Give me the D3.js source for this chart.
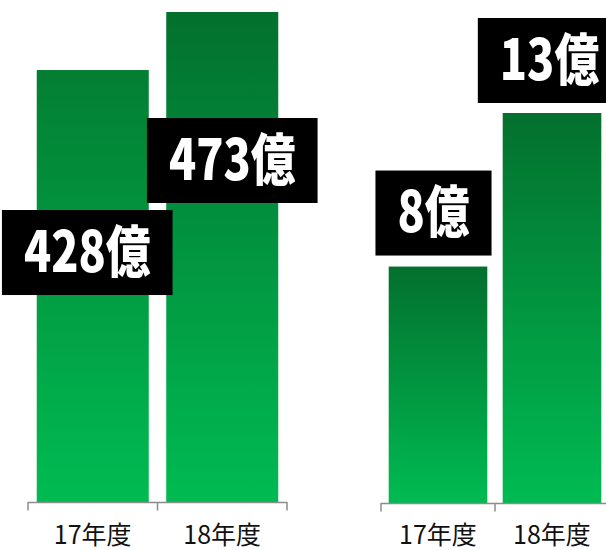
<!DOCTYPE html>
<html>
<head>
<meta charset="utf-8">
<script src="https://cdn.jsdelivr.net/npm/d3@7"></script>
<style>
  body { margin: 0; background: #fff; }
  svg { display: block; }
</style>
</head>
<body>
<div id="chart"></div>
<script>
// Chart values
var categories = ["17年度", "18年度"];
var leftValues = [428, 473];
var rightValues = [8, 13];
var leftLabels = ["428億", "473億"];
var rightLabels = ["8億", "13億"];

var svgWidth = 606;
var svgHeight = 550;

var svg = d3.select("#chart")
  .append("svg")
  .attr("width", svgWidth)
  .attr("height", svgHeight);

// Gradient for the bars, dark on top to bright at the bottom
var defs = svg.append("defs");
var grad = defs.append("linearGradient")
  .attr("id", "barGrad")
  .attr("x1", 0).attr("y1", 0)
  .attr("x2", 0).attr("y2", 1);
grad.append("stop").attr("offset", "0%").attr("stop-color", "#03702e");
grad.append("stop").attr("offset", "100%").attr("stop-color", "#00bb52");

var gradA = defs.append("linearGradient")
  .attr("id", "barGradA")
  .attr("x1", 0).attr("y1", 0)
  .attr("x2", 0).attr("y2", 1);
gradA.append("stop").attr("offset", "0%").attr("stop-color", "#037e33");
gradA.append("stop").attr("offset", "100%").attr("stop-color", "#00bb52");

// Each panel: its own band scale, value scale and label offsets
var panels = [
  {
    values: leftValues, labels: leftLabels,
    xRange: [28, 287], base: 502, domain: [93, 473], top: 12,
    fills: ["url(#barGradA)", "url(#barGrad)"],
    // label box centre relative to bar centre / bar top
    offsets: [[-5.5, 182.5], [10, 148.5]]
  },
  {
    values: rightValues, labels: rightLabels,
    xRange: [381, 609], base: 503, domain: [0.3, 13], top: 113,
    fills: ["url(#barGrad)", "url(#barGrad)"],
    offsets: [[-4.5, -53.5], [-2.5, -52.5]]
  }
];

panels.forEach(function(p) {
  var g = svg.append("g");

  var x = d3.scaleBand()
    .domain(categories)
    .range(p.xRange)
    .paddingInner(0.135)
    .paddingOuter(0.0675);

  var y = d3.scaleLinear()
    .domain(p.domain)
    .range([p.base, p.top]);

  // bars
  g.selectAll("rect.bar")
    .data(p.values)
    .enter()
    .append("rect")
    .attr("class", "bar")
    .attr("x", (d, i) => x(categories[i]))
    .attr("y", d => y(d))
    .attr("width", x.bandwidth())
    .attr("height", d => p.base - y(d))
    .attr("fill", (d, i) => p.fills[i]);

  // category axis with ticks at the category boundaries
  var step = x.step();
  var bounds = [p.xRange[0]];
  categories.forEach(function(c, i) { bounds.push(p.xRange[0] + step * (i + 1)); });

  g.append("line")
    .attr("x1", p.xRange[0]).attr("x2", p.xRange[1])
    .attr("y1", p.base + 0.5).attr("y2", p.base + 0.5)
    .attr("stroke", "#8c8c8c")
    .attr("stroke-width", 1.5);

  g.selectAll("line.tick")
    .data(bounds)
    .enter()
    .append("line")
    .attr("class", "tick")
    .attr("x1", d => d).attr("x2", d => d)
    .attr("y1", p.base).attr("y2", p.base + 8.5)
    .attr("stroke", "#8c8c8c")
    .attr("stroke-width", 1.5);

  g.selectAll("text.cat")
    .data(categories)
    .enter()
    .append("text")
    .attr("class", "cat")
    .attr("x", d => x(d) + x.bandwidth() / 2)
    .attr("y", 544)
    .attr("text-anchor", "middle")
    .attr("font-family", "'Noto Sans CJK JP', 'Noto Sans', sans-serif")
    .attr("font-size", 25)
    .attr("fill", "#111")
    .text(d => d);

  // value labels: black boxes with condensed bold white text
  p.values.forEach(function(v, i) {
    var cx = x(categories[i]) + x.bandwidth() / 2 + p.offsets[i][0];
    var cy = y(v) + p.offsets[i][1];
    var lg = g.append("g").attr("transform", `translate(${cx}, ${cy})`);
    var box = lg.append("rect").attr("fill", "#000");
    var t = lg.append("text")
      .attr("text-anchor", "middle")
      .attr("transform", "scale(0.8, 1)")
      .attr("y", 19)
      .attr("font-family", "'Noto Sans CJK JP', sans-serif")
      .attr("font-weight", 900)
      .attr("font-size", 56)
      .attr("fill", "#fff")
      .text(p.labels[i]);
    var w = t.node().getComputedTextLength() * 0.8 + 44;
    box.attr("x", -w / 2).attr("y", -42.5)
      .attr("width", w).attr("height", 85);
  });
});
</script>
</body>
</html>
